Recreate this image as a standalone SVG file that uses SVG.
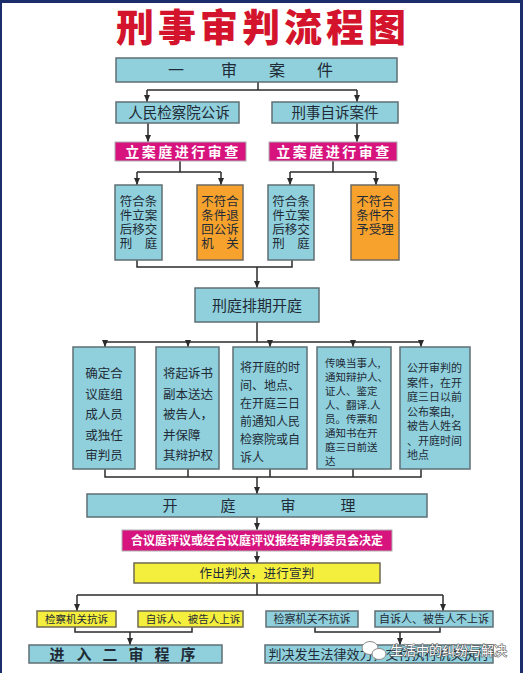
<svg xmlns="http://www.w3.org/2000/svg" width="523" height="673" viewBox="0 0 523 673">
<defs>
<marker id="ah" markerWidth="7" markerHeight="6" refX="7" refY="3" orient="auto" markerUnits="userSpaceOnUse">
<path d="M0,0 L7,3 L0,6 z" fill="#2b2b2b"/>
</marker>
<style>
.blue{fill:#8fd0dc;stroke:#5f6f74;stroke-width:1.5}
.org{fill:#f6a22c;stroke:#6f6a60;stroke-width:1.5}
.mag{fill:#d7147e;stroke:#b0b0b0;stroke-width:1}
.yel{fill:#f4ee3c;stroke:#6f6a50;stroke-width:1.5}
.t{font-family:"Noto Sans CJK SC","Noto Sans",sans-serif;fill:#1f2b36}
.w{font-family:"Noto Sans CJK SC","Noto Sans",sans-serif;fill:#ffffff;font-weight:bold}
.c{text-anchor:middle}
.ln{fill:none;stroke:#2b2b2b;stroke-width:1.5}
.ar{fill:none;stroke:#2b2b2b;stroke-width:1.5;marker-end:url(#ah)}
</style>
</defs>
<rect x="0" y="0" width="523" height="673" fill="#ffffff"/>
<rect x="0" y="0" width="523" height="3" fill="#1c2d6b"/>
<rect x="0" y="0" width="2" height="673" fill="#1c2d6b"/>
<rect x="520" y="0" width="3" height="673" fill="#1c2d6b"/>

<text x="263" y="41" text-anchor="middle" font-family="'Noto Sans CJK SC',sans-serif" font-size="38" font-weight="900" letter-spacing="4" fill="#d3142c">刑事审判流程图</text>

<g id="connectors">
<path class="ln" d="M258,82 V90 M147,90 H357"/>
<path class="ar" d="M147,90 V102"/>
<path class="ar" d="M357,90 V102"/>
<path class="ar" d="M148,123 V142"/>
<path class="ar" d="M357,123 V142"/>
<path class="ln" d="M180,161 V172 M137,172 H221"/>
<path class="ar" d="M137,172 V185"/>
<path class="ar" d="M221,172 V185"/>
<path class="ln" d="M333,161 V172 M290,172 H376"/>
<path class="ar" d="M290,172 V185"/>
<path class="ar" d="M376,172 V185"/>
<path class="ln" d="M137,260 V267 H292 V260"/>
<path class="ar" d="M257,267 V288"/>
<path class="ln" d="M257,322 V342 M105,342 H421"/>
<path class="ar" d="M105,342 V347"/>
<path class="ar" d="M188,342 V347"/>
<path class="ar" d="M270,342 V347"/>
<path class="ar" d="M353,342 V347"/>
<path class="ar" d="M421,342 V347"/>
<path class="ln" d="M105,469 V477 H421 V469 M188,469 V477 M270,469 V477 M353,469 V477"/>
<path class="ar" d="M257,477 V494"/>
<path class="ar" d="M257,517 V530"/>
<path class="ar" d="M257,551 V563"/>
<path class="ln" d="M257,583 V595 M77,595 H443"/>
<path class="ar" d="M77,595 V611"/>
<path class="ar" d="M443,595 V611"/>
<path class="ln" d="M75,627 V632 H192 V627"/>
<path class="ar" d="M130,632 V645"/>
<path class="ln" d="M315,627 V632 H440 V627"/>
<path class="ar" d="M400,632 V645"/>
</g>

<g id="n1"><rect class="blue" x="116" y="58" width="281" height="24"/>
<text class="t c" x="176 229 277 325" y="76" font-size="16">一审案件</text></g>

<g id="n2"><rect class="blue" x="116" y="102" width="123" height="21"/>
<text class="t c" x="179" y="118" font-size="14.5">人民检察院公诉</text></g>
<g id="n3"><rect class="blue" x="272" y="102" width="126" height="21"/>
<text class="t c" x="335" y="118" font-size="14.5">刑事自诉案件</text></g>

<g id="n4"><rect class="mag" x="115" y="142" width="131" height="19"/>
<text class="w c" x="183" y="157" font-size="14" letter-spacing="2.5">立案庭进行审查</text></g>
<g id="n5"><rect class="mag" x="269" y="142" width="128" height="19"/>
<text class="w c" x="334" y="157" font-size="14" letter-spacing="2.5">立案庭进行审查</text></g>

<g id="n6"><rect class="blue" x="115" y="185" width="47" height="75"/>
<text class="t c" font-size="12.5"><tspan x="138.5" y="206">符合条</tspan><tspan x="138.5" y="220">件立案</tspan><tspan x="138.5" y="234">后移交</tspan><tspan x="138.5" y="248">刑　庭</tspan></text></g>
<g id="n7"><rect class="org" x="197" y="185" width="46" height="75"/>
<text class="t c" font-size="12.5"><tspan x="220" y="206">不符合</tspan><tspan x="220" y="220">条件退</tspan><tspan x="220" y="234">回公诉</tspan><tspan x="220" y="248">机　关</tspan></text></g>
<g id="n8"><rect class="blue" x="268" y="185" width="46" height="75"/>
<text class="t c" font-size="12.5"><tspan x="291" y="206">符合条</tspan><tspan x="291" y="220">件立案</tspan><tspan x="291" y="234">后移交</tspan><tspan x="291" y="248">刑　庭</tspan></text></g>
<g id="n9"><rect class="org" x="351" y="185" width="48" height="75"/>
<text class="t c" font-size="12.5"><tspan x="375" y="206">不符合</tspan><tspan x="375" y="220">条件不</tspan><tspan x="375" y="234">予受理</tspan></text></g>

<g id="n10"><rect class="blue" x="195" y="288" width="124" height="34"/>
<text class="t c" x="257" y="311" font-size="15">刑庭排期开庭</text></g>

<g id="n11"><rect class="blue" x="73" y="347" width="62" height="122"/>
<text class="t c" font-size="12.5"><tspan x="104" y="378">确定合</tspan><tspan x="104" y="398.5">议庭组</tspan><tspan x="104" y="419">成人员</tspan><tspan x="104" y="439.5">或独任</tspan><tspan x="104" y="460">审判员</tspan></text></g>
<g id="n12"><rect class="blue" x="156" y="347" width="63" height="122"/>
<text class="t" font-size="12.5"><tspan x="163" y="378">将起诉书</tspan><tspan x="163" y="398.5">副本送达</tspan><tspan x="163" y="419">被告人，</tspan><tspan x="163" y="439.5">并保障</tspan><tspan x="163" y="460">其辩护权</tspan></text></g>
<g id="n13"><rect class="blue" x="233" y="347" width="74" height="122"/>
<text class="t" font-size="12"><tspan x="240" y="372">将开庭的时</tspan><tspan x="240" y="390">间、地点、</tspan><tspan x="240" y="408">在开庭三日</tspan><tspan x="240" y="426">前通知人民</tspan><tspan x="240" y="444">检察院或自</tspan><tspan x="240" y="462">诉人</tspan></text></g>
<g id="n14"><rect class="blue" x="317" y="347" width="74" height="122"/>
<text class="t" font-size="10.5"><tspan x="325" y="367">传唤当事人,</tspan><tspan x="325" y="381">通知辩护人、</tspan><tspan x="325" y="395">证人、鉴定</tspan><tspan x="325" y="409">人、翻译.人</tspan><tspan x="325" y="423">员。传票和</tspan><tspan x="325" y="437">通知书在开</tspan><tspan x="325" y="451">庭三日前送</tspan><tspan x="325" y="465">达</tspan></text></g>
<g id="n15"><rect class="blue" x="400" y="347" width="70" height="122"/>
<text class="t" font-size="11"><tspan x="407" y="372">公开审判的</tspan><tspan x="407" y="386.5">案件，在开</tspan><tspan x="407" y="401">庭三日以前</tspan><tspan x="407" y="415.5">公布案由,</tspan><tspan x="407" y="430">被告人姓名</tspan><tspan x="407" y="444.5">、开庭时间</tspan><tspan x="407" y="459">地点</tspan></text></g>

<g id="n16"><rect class="blue" x="87" y="494" width="340" height="23"/>
<text class="t c" x="170 228 288 348" y="511" font-size="15">开庭审理</text></g>

<g id="n17"><rect class="mag" x="122" y="530" width="270" height="21"/>
<text class="w c" x="257" y="545" font-size="12">合议庭评议或经合议庭评议报经审判委员会决定</text></g>

<g id="n18"><rect class="yel" x="134" y="563" width="246" height="20"/>
<text class="t c" x="257" y="578" font-size="12.5" letter-spacing="0.3">作出判决，进行宣判</text></g>

<g id="n19"><rect class="yel" x="37" y="611" width="79" height="16"/>
<text class="t c" x="76.5" y="623" font-size="10.5">检察机关抗诉</text></g>
<g id="n20"><rect class="yel" x="138" y="611" width="105" height="16"/>
<text class="t c" x="193" y="623" font-size="10.5">自诉人、被告人上诉</text></g>
<g id="n21"><rect class="blue" x="266" y="611" width="92" height="16"/>
<text class="t c" x="312" y="623" font-size="11">检察机关不抗诉</text></g>
<g id="n22"><rect class="blue" x="375" y="611" width="118" height="16"/>
<text class="t c" x="434" y="623" font-size="11">自诉人、被告人不上诉</text></g>

<g id="n23"><rect class="blue" x="29" y="645" width="193" height="18"/>
<text class="t c" x="57 84 110 136 162 188" y="660" font-size="15" font-weight="bold">进入二审程序</text></g>
<g id="n24"><rect class="blue" x="265" y="645" width="228" height="18"/>
<text class="t c" x="379" y="659" font-size="13">判决发生法律效力，交付执行机关执行</text></g>

<g id="watermark">
<ellipse cx="370" cy="648" rx="8" ry="6.5" fill="#ffffff" stroke="#8a8a8a" stroke-width="1"/>
<ellipse cx="379" cy="654" rx="7" ry="5.5" fill="#ffffff" stroke="#8a8a8a" stroke-width="1"/>
<text x="390" y="655" font-family="'Noto Sans CJK SC',sans-serif" font-size="13" fill="#ffffff" stroke="#555555" stroke-width="1.1" paint-order="stroke">生活中的纠纷与解决</text>
</g>
</svg>
